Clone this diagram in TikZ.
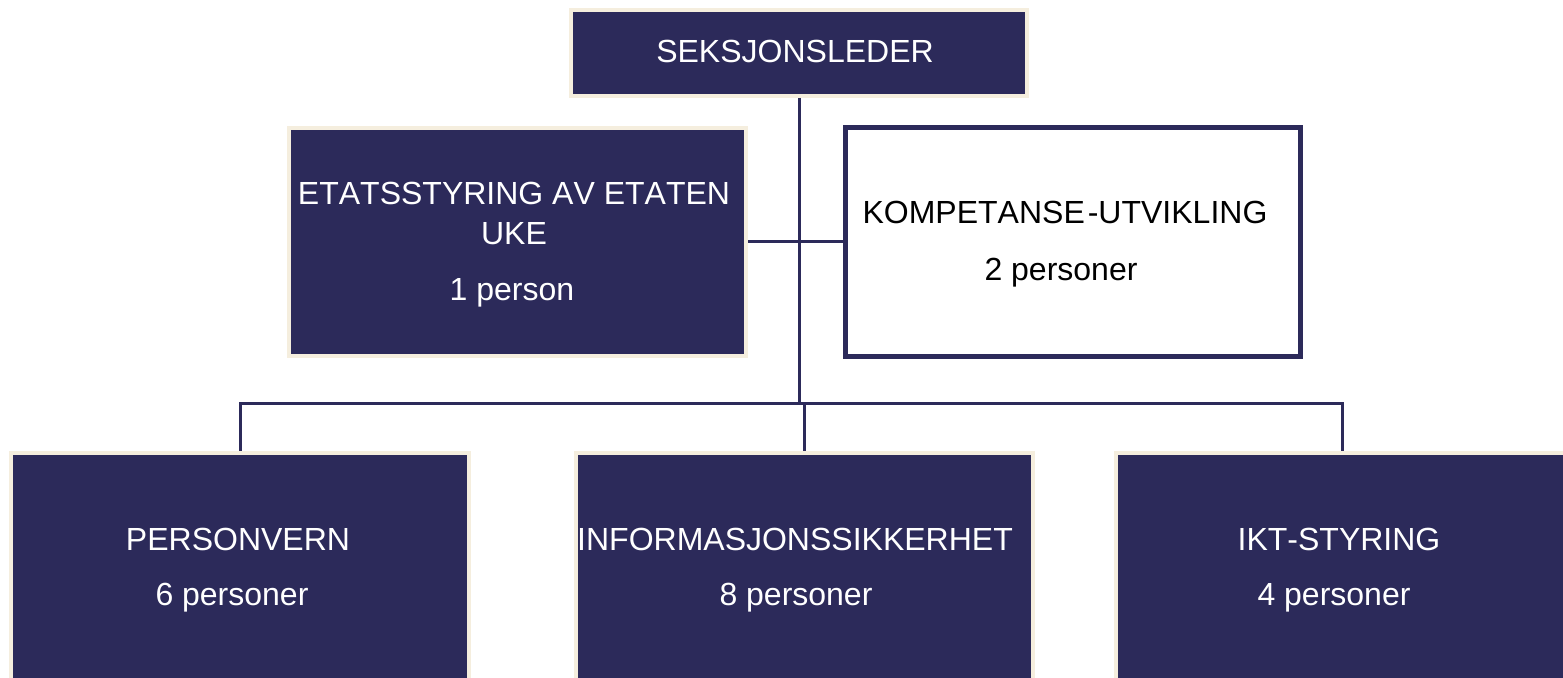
\documentclass[tikz,border=0pt]{standalone}
\usepackage{fontspec}
\setmainfont[Kerning=Off]{Liberation Sans}
\definecolor{navy}{RGB}{44,42,90}
\definecolor{cream}{RGB}{245,238,222}
\tikzset{
  px/.style={x=0.5pt,y=-0.5pt},
  darkbox/.style={rectangle, fill=navy, draw=cream, line width=2pt, inner sep=0pt},
  whitebox/.style={rectangle, fill=white, draw=navy, line width=2.5pt, inner sep=0pt},
  conn/.style={draw=navy, line width=1.5pt},
  wtxt/.style={anchor=base, text=white, inner sep=0pt, font=\fontsize{16pt}{19pt}\selectfont},
  btxt/.style={anchor=base, text=black, inner sep=0pt, font=\fontsize{16pt}{19pt}\selectfont},
}
\begin{document}
\begin{tikzpicture}[px]
\useasboundingbox (0,0) rectangle (1563,678);
\clip (0,0) rectangle (1563,678);
\fill[white] (0,0) rectangle (1563,678);
% boxes
\node[darkbox, minimum width=228pt, minimum height=43pt] (top) at (799,53) {};
\node[darkbox, minimum width=228.5pt, minimum height=114pt] (etat) at (517.5,242) {};
\node[whitebox, minimum width=227.5pt, minimum height=114.5pt] (komp) at (1073,242) {};
\node[darkbox, minimum width=229pt, minimum height=132.5pt] (pv) at (240,585.5) {};
\node[darkbox, minimum width=228.5pt, minimum height=132.5pt] (inf) at (804,585.5) {};
\node[darkbox, minimum width=226pt, minimum height=132.5pt] (ikt) at (1342,585.5) {};
% texts
\node[wtxt] (t1) at (795,63) {SEKSJONSLEDER};
\node[wtxt] (t2a) at (514,205) {ETATSSTYRING AV ETATEN};
\node[wtxt] (t2b) at (514,245) {UKE};
\node[wtxt] (t2c) at (512,301) {1 person};
\node[btxt] (t3a) at (1065,224) {KOMPETANSE\kern1.5pt-UTVIKLING};
\node[btxt] (t3b) at (1061,281) {2 personer};
\node[wtxt] (t4a) at (238,550) {PERSONVERN};
\node[wtxt] (t4b) at (232,605) {6 personer};
\node[wtxt] (t5a) at (795,550) {INFORMASJONSSIKKERHET};
\node[wtxt] (t5b) at (796,605) {8 personer};
\node[wtxt] (t6a) at (1339,550) {IKT-STYRING};
\node[wtxt] (t6b) at (1334,605) {4 personer};
% connectors
\coordinate (bus) at (798,404);
\draw[conn] (top.south) -- (top.south |- bus);
\draw[conn] (etat.east) -- (komp.west);
\draw[conn] (pv.north) -- (pv.north |- bus) -- (ikt.north |- bus) -- (ikt.north);
\draw[conn] (inf.north) -- (inf.north |- bus);
\end{tikzpicture}
\end{document}
